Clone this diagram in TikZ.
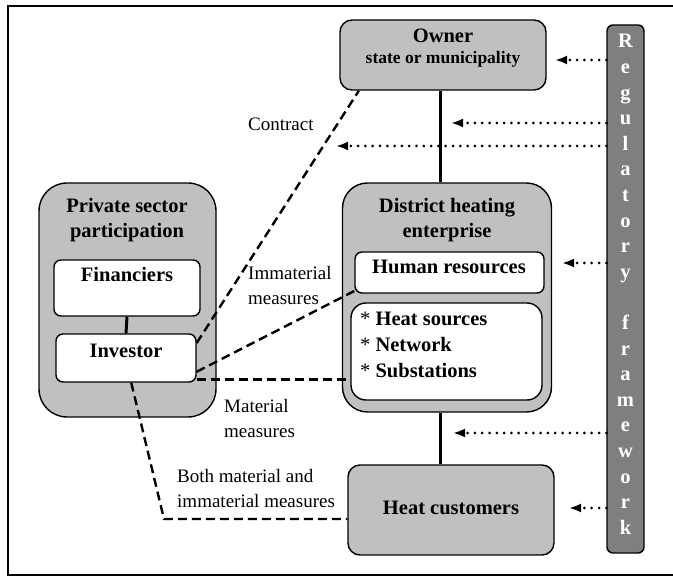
\documentclass[tikz,border=0pt]{standalone}
\usepackage{fontspec}
\setmainfont{Liberation Serif}
\usetikzlibrary{arrows}
\usetikzlibrary{arrows.meta}
\usetikzlibrary{positioning}
\definecolor{BoxGray}{HTML}{C0C0C0}
\definecolor{BarGray}{HTML}{7F7F7F}

\begin{document}
\begin{tikzpicture}[x=1pt, y=-1pt,
  box/.style={draw, line width=1.4pt, inner sep=0pt},
  graybox/.style={box, fill=BoxGray},
  whitebox/.style={box, fill=white},
  title/.style={font=\fontsize{20.5}{25.5}\selectfont\bfseries, align=center, anchor=base, inner sep=0pt},
  note/.style={font=\fontsize{19}{25}\selectfont, align=left, anchor=base west, inner sep=0pt},
  link/.style={line width=3pt},
  measure/.style={line width=2.4pt, dash pattern=on 9pt off 5pt},
  rule/.style={line width=3pt, line cap=round, dash pattern=on 0pt off 7.3pt, -{Latex[length=12pt, width=9pt]}}]
  \clip (0,0) rectangle (673,577);
  \draw[line width=2pt] (8,6) rectangle (676,575);

  % boxes
  \node[graybox, minimum width=206, minimum height=70, rounded corners=12] (OwnerBox) at (443,55) {};
  \node[draw, line width=1.4pt, fill=BarGray, minimum width=37, minimum height=528, rounded corners=6] (RegBar) at (625.5,289) {};
  \node[graybox, minimum width=209, minimum height=229, rounded corners=25] (DHBox) at (447,297.5) {};
  \node[whitebox, minimum width=189, minimum height=41, rounded corners=7] (HRBox) at (449.5,272.5) {};
  \node[whitebox, minimum width=191, minimum height=97, rounded corners=15] (HSBox) at (446.5,351.5) {};
  \node[graybox, minimum width=177, minimum height=234, rounded corners=28] (PSPBox) at (127.5,300) {};
  \node[whitebox, minimum width=146, minimum height=56, rounded corners=7] (FinBox) at (127,288) {};
  \node[whitebox, minimum width=140, minimum height=48, rounded corners=7] (InvBox) at (126,358) {};
  \node[graybox, minimum width=206, minimum height=90, rounded corners=12] (HCBox) at (451,510) {};

  % texts (multi-line nodes sit on the baseline of their last line)
  \node[title] (OwnerTitle) at (443,43) {Owner};
  \node[title, font=\fontsize{17.5}{22}\selectfont\bfseries] (OwnerSub) at (443,64) {state or municipality};
  \node[title] (PSPTitle) at (127,238) {Private sector\\participation};
  \node[title] (DHTitle) at (447,238) {District heating\\enterprise};
  \node[title] (FinTitle) at (127,282) {Financiers};
  \node[title] (InvTitle) at (126,358) {Investor};
  \node[title] (HRTitle) at (449,274) {Human resources};
  \node[title, align=left, anchor=base west, font=\fontsize{20.5}{26}\selectfont\bfseries] (HSTitle) at (360,378)
    {{\mdseries*} Heat sources\\{\mdseries*} Network\\{\mdseries*} Substations};
  \node[title] (HCTitle) at (451,515) {Heat customers};

  \foreach \l [count=\i] in {R,e,g,u,l,a,t,o,r,y, ,f,r,a,m,e,w,o,r,k}{%
    \node[title, text=white] (Reg\i) at (625.5,{48+25.6*(\i-1)}) {\l};
  }

  \node[note] (Contract) at (248,131) {Contract};
  \node[note] (Immaterial) at (248,305) {Immaterial\\measures};
  \node[note] (Material) at (224,438) {Material\\measures};
  \node[note] (Both) at (177,508) {Both material and\\immaterial measures};

  % connectors
  \coordinate (Trunk) at (440,0);
  \draw[link] (Trunk |- OwnerBox.south) -- (Trunk |- DHBox.north);
  \draw[link] (Trunk |- DHBox.south) -- (Trunk |- HCBox.north);
  \draw[link] (FinBox.south) -- (InvBox.north);

  \draw[measure] (InvBox.12) -- (OwnerBox.-157.6);
  \draw[measure] (InvBox.-11) -- (HRBox.-169.5);
  \draw[measure] (InvBox.-17) -- (InvBox.-17 -| HSBox.west);
  \coordinate (Bend) at (164,519);
  \draw[measure] (InvBox.-78) -- (Bend) -- (Bend -| HCBox.west);

  \foreach \x/\y [count=\i] in {555/60, 451/123, 336/146, 562/263, 453/433, 569/508}{%
    \coordinate (RegEnd\i) at (\x,\y);
    \draw[rule] (RegBar.west |- RegEnd\i) -- (RegEnd\i);
  }
\end{tikzpicture}
\end{document}
